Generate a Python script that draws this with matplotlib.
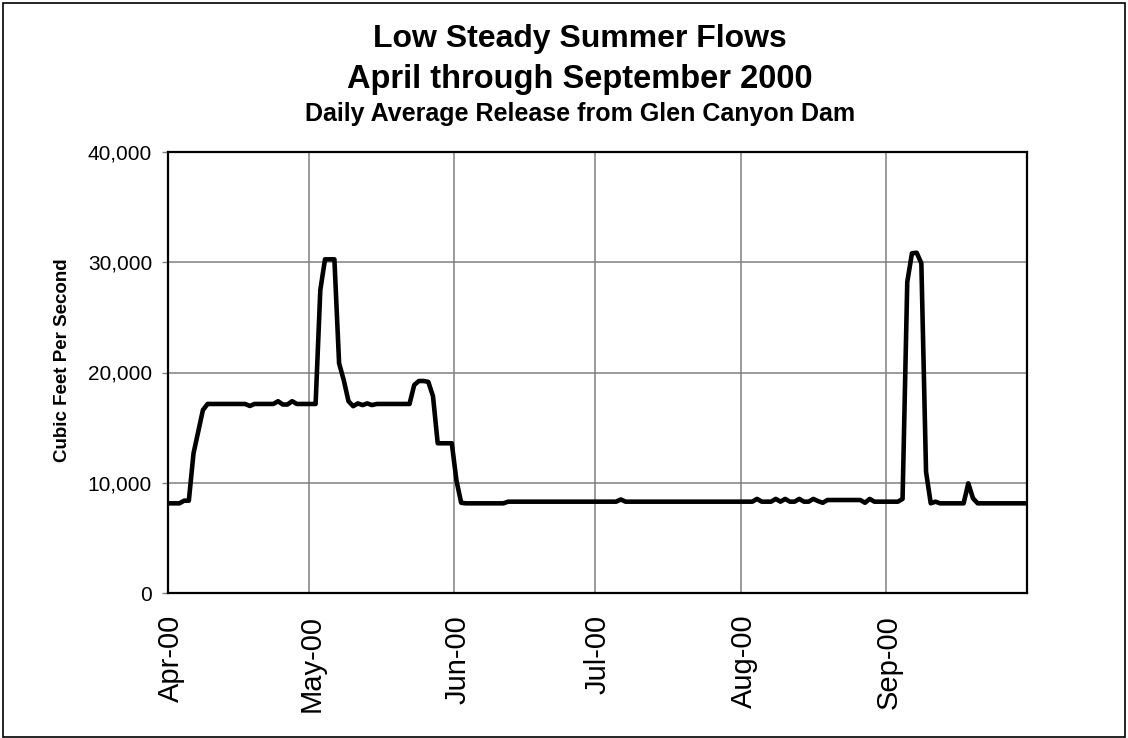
import numpy as np
import pandas as pd
import matplotlib
matplotlib.use("Agg")
import matplotlib.pyplot as plt
import matplotlib.dates as mdates
import matplotlib.ticker as mticker
from matplotlib.transforms import ScaledTranslation
from matplotlib.patches import Rectangle

plt.rcParams['font.family'] = ['Liberation Sans', 'DejaVu Sans']

# daily average release (cfs), one list per month
apr = [8150, 8150, 8150, 8390, 8390, 12680, 14640, 16600, 17150, 17150,
       17150, 17150, 17150, 17150, 17150, 17150, 17150, 16970, 17150, 17150,
       17150, 17150, 17150, 17400, 17100, 17100, 17400, 17150, 17150, 17150]
may = [17150, 17150, 27470, 30250, 30250, 30250, 20830, 19300, 17400, 16950,
       17200, 17050, 17200, 17050, 17150, 17150, 17150, 17150, 17150, 17150,
       17150, 17150, 18870, 19230, 19230, 19150, 17850, 13590, 13590, 13590,
       13590]
jun = [10200, 8200, 8150, 8150, 8150, 8150, 8150, 8150, 8150, 8150,
       8150, 8300, 8300, 8300, 8300, 8300, 8300, 8300, 8300, 8300,
       8300, 8300, 8300, 8300, 8300, 8300, 8300, 8300, 8300, 8300]
jul = [8300, 8300, 8300, 8300, 8300, 8500, 8300, 8300, 8300, 8300,
       8300, 8300, 8300, 8300, 8300, 8300, 8300, 8300, 8300, 8300,
       8300, 8300, 8300, 8300, 8300, 8300, 8300, 8300, 8300, 8300,
       8300]
aug = [8300, 8300, 8300, 8550, 8300, 8300, 8300, 8550, 8300, 8550,
       8300, 8300, 8550, 8300, 8300, 8550, 8350, 8200, 8450, 8450,
       8450, 8450, 8450, 8450, 8450, 8450, 8200, 8550, 8300, 8300,
       8300]
sep = [8300, 8300, 8300, 8550, 28200, 30800, 30850, 29900, 11000, 8150,
       8300, 8150, 8150, 8150, 8150, 8150, 8150, 9960, 8600, 8150,
       8150, 8150, 8150, 8150, 8150, 8150, 8150, 8150, 8150, 8150]

flow = apr + may + jun + jul + aug + sep
days = pd.date_range('2000-04-01', periods=len(flow), freq='D') + pd.Timedelta(hours=12)

W, H = 1128, 738
fig = plt.figure(figsize=(W / 100, H / 100), dpi=100)
fig.patch.set_facecolor('white')

# outer chart border
fig.patches.append(Rectangle((3 / W, 1 / H), (W - 6) / W, (H - 4) / H,
                             transform=fig.transFigure, fill=False,
                             edgecolor='black', linewidth=1.2))

x0, x1, y0, y1 = 167.7, 1027, 151.7, 593.3
ax = fig.add_axes([x0 / W, 1 - y1 / H, (x1 - x0) / W, (y1 - y0) / H])

ax.plot(days, flow, color='black', linewidth=3.3, solid_joinstyle='round', zorder=3)

ax.set_xlim(pd.Timestamp('2000-04-01'), pd.Timestamp('2000-10-01'))
ax.set_ylim(0, 40000)
ax.set_xticks(pd.date_range('2000-04-01', '2000-09-01', freq='MS'))
ax.xaxis.set_major_formatter(mdates.DateFormatter('%b-%y'))
ax.set_yticks([0, 10000, 20000, 30000, 40000])
ax.yaxis.set_major_formatter(mticker.FuncFormatter(lambda v, p: f'{int(v):,}'))

ax.grid(True, color='#808080', linewidth=1.1, zorder=1)
for s in ax.spines.values():
    s.set_linewidth(1.6)
    s.set_color('black')

ax.tick_params(axis='y', length=4.3, width=1, color='#808080', pad=7, labelsize=15)
ax.tick_params(axis='x', length=0, pad=15.5, labelsize=21)
for lab in ax.get_xticklabels():
    lab.set_rotation(90)
    lab.set_transform(lab.get_transform() + ScaledTranslation(3 / 100, 0, fig.dpi_scale_trans))

ax.set_ylabel('Cubic Feet Per Second', fontsize=13.5, fontweight='bold')
ax.yaxis.set_label_coords((71 - x0) / (x1 - x0), 0.527)

cx = 580 / W
fig.text(cx, 1 - 46.7 / H, 'Low Steady Summer Flows', ha='center', va='baseline',
         fontsize=23, fontweight='bold')
fig.text(cx, 1 - 87.7 / H, 'April through September 2000', ha='center', va='baseline',
         fontsize=23.5, fontweight='bold')
fig.text(cx, 1 - 121 / H, 'Daily Average Release from Glen Canyon Dam', ha='center',
         va='baseline', fontsize=18, fontweight='bold')

fig.savefig('out.png', dpi=100)
